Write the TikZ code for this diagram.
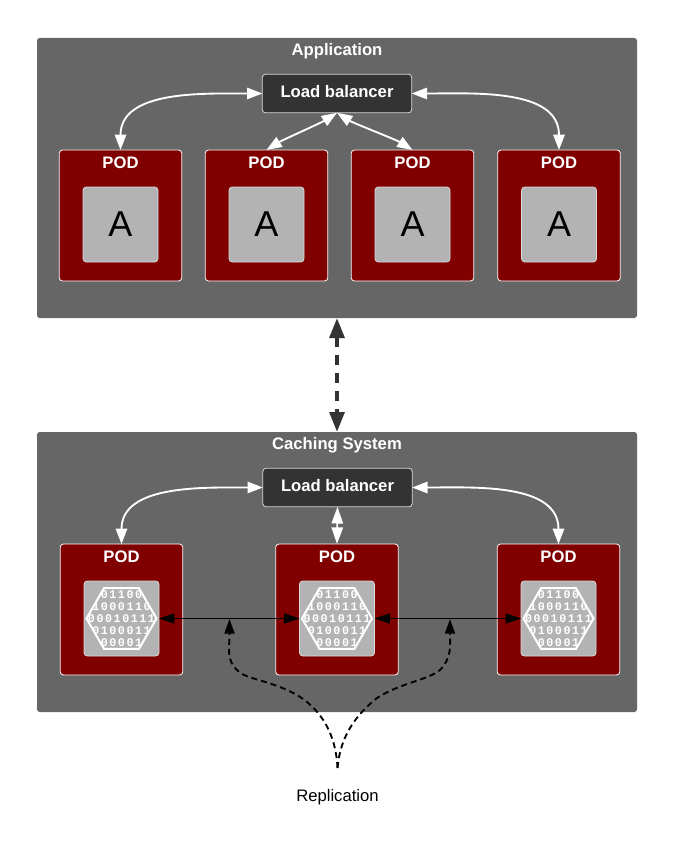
\documentclass[tikz,border=0pt]{standalone}
\usepackage{fontspec}
\setmainfont{Liberation Sans}
\newfontfamily\bitfont[LetterSpace=13]{Liberation Mono}
\usetikzlibrary{positioning,arrows.meta,shapes.geometric}
\definecolor{panel}{HTML}{666666}
\definecolor{pod}{HTML}{800000}
\definecolor{chip}{HTML}{B3B3B3}
\definecolor{lbox}{HTML}{333333}
\newcommand{\bitrows}{01100\\1000110\\00010111\\0100011\\00001}

\begin{document}
\begin{tikzpicture}[x=0.75pt,y=-0.75pt,font=\fontsize{12.5}{15}\selectfont,
        outer sep=0pt,
        area/.style={fill=panel,rounded corners=2pt,minimum width=450pt,minimum height=210pt},
        title/.style={text=white,font=\fontsize{12.5}{15}\selectfont\bfseries,inner sep=0pt},
        lb/.style={draw=white!85!black,line width=0.6pt,fill=lbox,rounded corners=2.5pt,minimum width=112pt,minimum height=29pt,text=white,text depth=3pt,font=\fontsize{12.5}{15}\selectfont\bfseries},
        podbox/.style={draw=white,line width=0.6pt,fill=pod,rounded corners=2.5pt,minimum width=92pt,minimum height=98.25pt},
        inner/.style={draw=white!85!black,line width=0.6pt,fill=chip,rounded corners=2.5pt,minimum width=56.25pt,minimum height=56.25pt,font=\fontsize{27}{30}\selectfont},
        hexa/.style={regular polygon,regular polygon sides=6,minimum size=52.5pt,inner sep=0pt,draw=white,line width=1.5pt,
          path picture={\node[text=white,font=\bitfont\fontsize{8.8}{9}\selectfont\bfseries,align=center,inner sep=0pt] at (path picture bounding box.center) {\bitrows};}},
        w/.style={{Triangle[length=11.5pt,width=8.5pt]}-{Triangle[length=11.5pt,width=8.5pt]},white,line width=1.4pt},
        k/.style={{Triangle[length=11.5pt,width=7.5pt]}-{Triangle[length=11.5pt,width=7.5pt]},black,line width=0.8pt},
        rep/.style={-{Triangle[length=11pt,width=7.5pt]},black,line width=1.4pt,dash pattern=on 4.5pt off 3pt}]
        \useasboundingbox (0,0) rectangle (675,863);
        % top block
        \node[area] (app) at (337,178) {};
        \node[title,below=4.2pt of app.north] (apptitle) {Application};
        \node[lb] (lb1) at (337,93.5) {Load balancer};
        \node[podbox] (p1) at (120.5,215.5) {};
        \node[podbox] (p2) at (266.5,215.5) {};
        \node[podbox] (p3) at (412.5,215.5) {};
        \node[podbox] (p4) at (559,215.5) {};
        \node[title,below=5pt of p1.north] (t1) {POD};
        \node[title,below=5pt of p2.north] (t2) {POD};
        \node[title,below=5pt of p3.north] (t3) {POD};
        \node[title,below=5pt of p4.north] (t4) {POD};
        \node[inner,below=27.75pt of p1.north] (a1) {A};
        \node[inner,below=27.75pt of p2.north] (a2) {A};
        \node[inner,below=27.75pt of p3.north] (a3) {A};
        \node[inner,below=27.75pt of p4.north] (a4) {A};
        \draw[w] (lb1.west) to[out=180,in=90] (p1.north);
        \draw[w] (lb1.east) to[out=0,in=90] (p4.north);
        \draw[w] (lb1.south) to[out=212,in=32,looseness=0.6] (p2.north);
        \draw[w] (lb1.south) to[out=-32,in=148,looseness=0.6] (p3.north);
        % lower block
        \node[area] (cache) at (337,572) {};
        \node[title,below=4.2pt of cache.north] (cachetitle) {Caching System};
        \node[lb] (lb2) at (337.5,487.5) {Load balancer};
        \node[podbox] (c1) at (121.5,609.5) {};
        \node[podbox] (c2) at (337,609.5) {};
        \node[podbox] (c3) at (558.5,609.5) {};
        \node[title,below=5pt of c1.north] (s1) {POD};
        \node[title,below=5pt of c2.north] (s2) {POD};
        \node[title,below=5pt of c3.north] (s3) {POD};
        \node[inner,below=27.75pt of c1.north] (b1) {};
        \node[inner,below=27.75pt of c2.north] (b2) {};
        \node[inner,below=27.75pt of c3.north] (b3) {};
        \node[hexa] (h1) at (b1) {};
        \node[hexa] (h2) at (b2) {};
        \node[hexa] (h3) at (b3) {};
        \draw[w] (lb2.west) to[out=180,in=90] (c1.north);
        \draw[w] (lb2.east) to[out=0,in=90] (c3.north);
        \draw[w,{Triangle[length=12.5pt,width=8.5pt]}-{Triangle[length=12.5pt,width=8.5pt]}] (lb2.south) -- (c2.north);
        \draw[k] (b1.east) -- (b2.west);
        \draw[k] (b2.east) -- (b3.west);
        % link between blocks
        \draw[{Triangle[length=15pt,width=11pt]}-{Triangle[length=15pt,width=11pt]},lbox,line width=3pt,dash pattern=on 7.5pt off 6pt] (app.south) -- (cache.north);
        % replication
        \node (repl) at (337.5,797) {Replication};
        \coordinate (rs) at (337.5,768);
        \coordinate (r1) at (229.5,619);
        \coordinate (r2) at (450,619);
        \draw[rep] (rs) .. controls (336,735) and (322,710) .. (297,695) .. controls (270,680) and (248,680) .. (238,671) .. controls (226,660) and (229.5,650) .. (r1);
        \draw[rep] (rs) .. controls (340,740) and (352,718) .. (377,698) .. controls (400,683) and (428,680) .. (440,670) .. controls (452,658) and (450,645) .. (r2);
      \end{tikzpicture}
\end{document}
